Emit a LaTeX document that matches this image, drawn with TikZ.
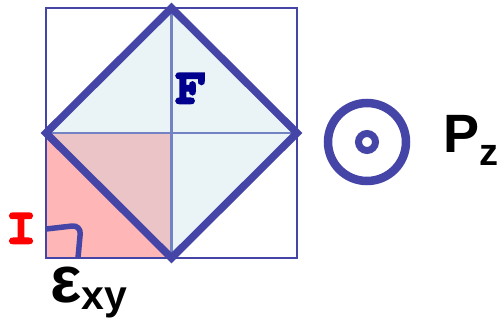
\documentclass[tikz,border=0pt]{standalone}
\usepackage[T1,TU]{fontenc}
\usepackage{fontspec}
\setmainfont{Liberation Sans}
\newcommand\slabfont{\fontencoding{T1}\fontfamily{pcr}\fontseries{b}\selectfont}
\newcommand\heavytext[1]{\special{pdf:literal direct 2 Tr 1.6 w}#1\special{pdf:literal direct 0 Tr}}
\definecolor{edgeblue}{HTML}{4545A8}
\definecolor{gridblue}{HTML}{7282C2}
\definecolor{iceblue}{HTML}{EAF4F6}
\definecolor{rosefill}{HTML}{FFB6B6}
\definecolor{mixfill}{HTML}{EAC4C7}
\definecolor{fblue}{HTML}{00008F}

\begin{document}
\begin{tikzpicture}[x=1pt,y=-1pt,
  frame/.style={draw=edgeblue,line width=2.3pt},
  midline/.style={draw=gridblue,line width=2.3pt},
  diamondline/.style={draw=edgeblue,line width=7.5pt,line join=miter},
  sym/.style={font=\slabfont\fontsize{52}{52}\selectfont,inner sep=0pt}]
\useasboundingbox (0,0) rectangle (498,322);
\coordinate (A) at (46,8); \coordinate (B) at (297,8); \coordinate (C) at (297,258); \coordinate (D) at (46,258);
\coordinate (T) at (171.5,8); \coordinate (R) at (297,133); \coordinate (U) at (171.5,258); \coordinate (L) at (46,133);
\coordinate (M) at (171.5,133);
\fill[iceblue] (T)--(R)--(U)--(L)--cycle;
\fill[rosefill] (L)--(M)--(U)--(D)--cycle;
\fill[mixfill] (L)--(M)--(U)--cycle;
\draw[midline] (L)--(R);
\draw[midline] (T)--(U);
\draw[frame] (A)--(B)--(C)--(D)--cycle;
\draw[diamondline] (T)--(R)--(U)--(L)--cycle;
% angle mark
\coordinate (E1) at (46,229); \coordinate (E2) at (81,225); \coordinate (E3) at (78,258);
\draw[edgeblue,line width=5.5pt,rounded corners=9pt] (E1)--(E2)--(E3);
\node[sym,red] (curr) at (21,229) {\heavytext{I}};
\node[sym,fblue] (force) at (191,89) {\heavytext{F}};
\node[anchor=base west,inner sep=0pt,font=\bfseries] (strain) at (50,302)
  {\fontsize{66}{66}\selectfont ε\raisebox{-7pt}{\fontsize{41}{41}\selectfont xy}};
% polarization out of page
\node[circle,draw=edgeblue,line width=8.5pt,minimum size=78pt,inner sep=0pt] (ring) at (367,142) {};
\node[circle,draw=edgeblue,line width=7pt,minimum size=17pt,inner sep=0pt] (dot) at (ring.center) {};
\node[anchor=base west,inner sep=0pt,font=\bfseries] (pol) at (443,152)
  {\fontsize{54}{54}\selectfont P\raisebox{-13pt}{\fontsize{38}{38}\selectfont z}};
\end{tikzpicture}
\end{document}
